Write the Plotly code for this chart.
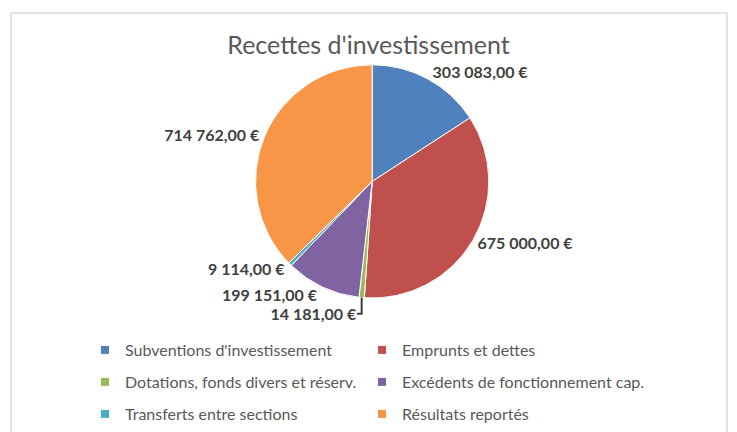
import plotly.graph_objects as go

categories = ["Subventions d'investissement", "Emprunts et dettes",
              "Dotations, fonds divers et réserv.", "Excédents de fonctionnement cap.",
              "Transferts entre sections", "Résultats reportés"]
values = [303083, 675000, 14181, 199151, 9114, 714762]
colors = ["#4F81BD", "#C0504D", "#9BBB59", "#8064A2", "#4BACC6", "#F79646"]


def fr(v):
    s = f"{v:,.2f}"
    s = s.replace(",", " ").replace(".", ",")
    return s + " €"


labels_txt = [fr(v) for v in values]

fig = go.Figure()
fig.add_trace(go.Pie(
    labels=categories, values=values, sort=False, direction="clockwise", rotation=0,
    marker=dict(colors=colors, line=dict(color="white", width=1)),
    text=labels_txt, texttemplate="<b>%{text}</b>", textposition="outside",
    textfont=dict(family="Lato", size=16, color="#404040"),
    domain=dict(x=[0.25, 0.76], y=[0.31, 0.85]),
    hoverinfo="label+value", showlegend=False,
))

# one legend per entry, laid out as 2 columns x 3 rows
legend_ids = ["legend", "legend2", "legend3", "legend4", "legend5", "legend6"]
for cat, col, lg in zip(categories, colors, legend_ids):
    fig.add_trace(go.Scatter(x=[None], y=[None], mode="markers", name=cat,
                             marker=dict(symbol="square", size=8, color=col),
                             legend=lg, showlegend=True, hoverinfo="skip"))

row_y = [350, 382, 414]
col_x = [85, 362]
leg_layout = {}
for i, lg in enumerate(legend_ids):
    leg_layout[lg] = dict(orientation="h", x=col_x[i % 2] / 737, xanchor="left",
                          y=1 - row_y[i // 2] / 432, yanchor="middle", itemwidth=30,
                          bgcolor="rgba(0,0,0,0)",
                          font=dict(family="Lato", size=16, color="#595959"))

fig.update_layout(
    width=737, height=432,
    margin=dict(l=0, r=0, t=0, b=0, autoexpand=False),
    paper_bgcolor="white", plot_bgcolor="white",
    font=dict(family="Lato", color="#595959"),
    xaxis=dict(visible=False), yaxis=dict(visible=False),
    title=dict(text="Recettes d'investissement", x=0.5, xanchor="center",
               y=1 - 45 / 432, yanchor="middle",
               font=dict(family="Lato", size=25, color="#595959")),
    shapes=[dict(type="rect", xref="paper", yref="paper", x0=11 / 737, x1=727 / 737,
                 y0=-0.05, y1=1 - 13 / 432, line=dict(color="#D9D9D9", width=1.5))],
    **leg_layout,
)

fig.write_html("out.html", config={"displayModeBar": False},
               post_script="document.body.style.margin='0';")
